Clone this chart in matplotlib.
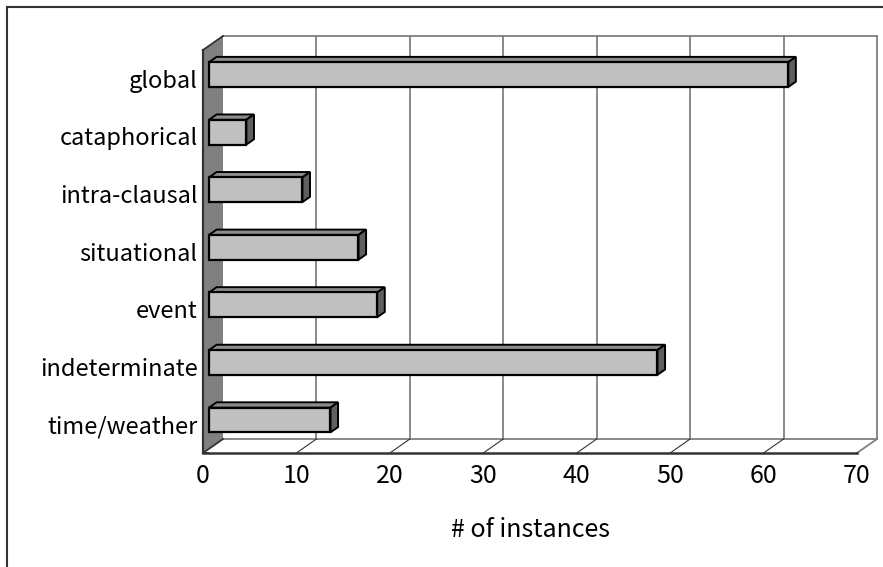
import matplotlib.pyplot as plt
import matplotlib.transforms as mtransforms
from matplotlib.patches import Polygon
from matplotlib.lines import Line2D
import numpy as np

plt.rcParams['font.family'] = ['Noto Sans CJK JP', 'DejaVu Sans']

categories = ["global", "cataphorical", "intra-clausal", "situational",
              "event", "indeterminate", "time/weather"]
counts = [62, 4, 10, 16, 18, 48, 13]
xticks = [0, 10, 20, 30, 40, 50, 60, 70]
xlabel = "# of instances"

# 3d look: depth of the back plane in pixels (right, up)
DEPTH = np.array([20.0, 14.0])
BAR_FRONT, BAR_BACK = 0.30, 0.68   # bar position inside the depth
BAR_H = 0.43
GRID = "#808080"
DARK = "#333333"

fig = plt.figure(figsize=(8.83, 5.67), dpi=100)
ax = fig.add_axes([203 / 883, 114 / 567, 654 / 883, 403 / 567])
xmax = xticks[-1]
n = len(categories)
ax.set_xlim(0, xmax)
ax.set_ylim(n - 0.5, -0.5)
ybot, ytop = n - 0.5, -0.5

px = mtransforms.IdentityTransform()


def pt(x, y, d):
    # data point pushed d (0..1) into the depth, in display pixels
    return ax.transData.transform((x, y)) + d * DEPTH


def poly(points, **kw):
    p = Polygon(np.array(points), closed=True, transform=px, clip_on=False, **kw)
    ax.add_artist(p)


def line(a, b, **kw):
    a, b = np.array(a), np.array(b)
    ax.add_artist(Line2D([a[0], b[0]], [a[1], b[1]], transform=px,
                         clip_on=False, **kw))


# back wall grid and frame
for t in xticks[1:]:
    line(pt(t, ybot, 1), pt(t, ytop, 1), color=GRID, lw=1.3, zorder=1)
line(pt(0, ytop, 1), pt(xmax, ytop, 1), color=GRID, lw=1.3, zorder=1)
line(pt(0, ybot, 1), pt(xmax, ybot, 1), color=GRID, lw=1.3, zorder=1)

# floor
for t in xticks[1:-1]:
    line(pt(t, ybot, 0), pt(t, ybot, 1), color=DARK, lw=0.8, zorder=1)
line(pt(xmax, ybot, 0), pt(xmax, ybot, 1), color=GRID, lw=1.3, zorder=1)
line(pt(0, ybot, 0), pt(xmax, ybot, 0), color=DARK, lw=1.8, zorder=3)

# side wall
poly([pt(0, ybot, 0), pt(0, ytop, 0), pt(0, ytop, 1), pt(0, ybot, 1)],
     facecolor="#808080", edgecolor="none", zorder=2)
line(pt(0, ybot, 0), pt(0, ytop, 0), color=DARK, lw=1.6, zorder=3)
line(pt(0, ytop, 0), pt(0, ytop, 1), color=DARK, lw=1.3, zorder=3)
line(pt(0, ybot, 0), pt(0, ybot, 1), color=DARK, lw=1.3, zorder=3)

# bars: front face through barh, top and side faces as polygons
front = mtransforms.offset_copy(ax.transData, fig=fig, x=BAR_FRONT * DEPTH[0],
                                y=BAR_FRONT * DEPTH[1], units='dots')
y = np.arange(n)
ax.barh(y, counts, height=BAR_H, color="#c0c0c0", edgecolor="black",
        linewidth=1.6, transform=front, zorder=5, clip_on=False)
for yi, v in zip(y, counts):
    t0, t1 = yi - BAR_H / 2, yi + BAR_H / 2
    poly([pt(0, t0, BAR_FRONT), pt(v, t0, BAR_FRONT), pt(v, t0, BAR_BACK),
          pt(0, t0, BAR_BACK)], facecolor="#8c8c8c", edgecolor="black",
         linewidth=1.4, zorder=4)
    poly([pt(v, t0, BAR_FRONT), pt(v, t1, BAR_FRONT), pt(v, t1, BAR_BACK),
          pt(v, t0, BAR_BACK)], facecolor="#5f5f5f", edgecolor="black",
         linewidth=1.4, zorder=4)

# axes text
for s in ax.spines.values():
    s.set_visible(False)
ax.set_xticks(xticks)
ax.set_xticklabels([str(t) for t in xticks], fontsize=18)
ax.tick_params(axis='x', length=0, pad=7)
ax.set_yticks(y)
ax.set_yticklabels(categories, fontsize=17)
ax.tick_params(axis='y', length=0, pad=4)
ax.set_yticks(np.arange(n + 1) - 0.5, minor=True)
ax.tick_params(axis='y', which='minor', direction='in', length=4,
               color=DARK, width=1.2)
ax.set_xlabel(xlabel, fontsize=18)
ax.xaxis.set_label_coords(0.5, -(530 - 453) / 403)
ax.xaxis.label.set_va('center')
ax.patch.set_visible(False)

# outer chart border (top and left only visible)
fig.add_artist(Line2D([7 / 883, 7 / 883], [0, 1 - 7 / 567], color=DARK, lw=1.5))
fig.add_artist(Line2D([7 / 883, 1], [1 - 7 / 567, 1 - 7 / 567], color=DARK, lw=1.5))

fig.savefig("out.png", dpi=100)
